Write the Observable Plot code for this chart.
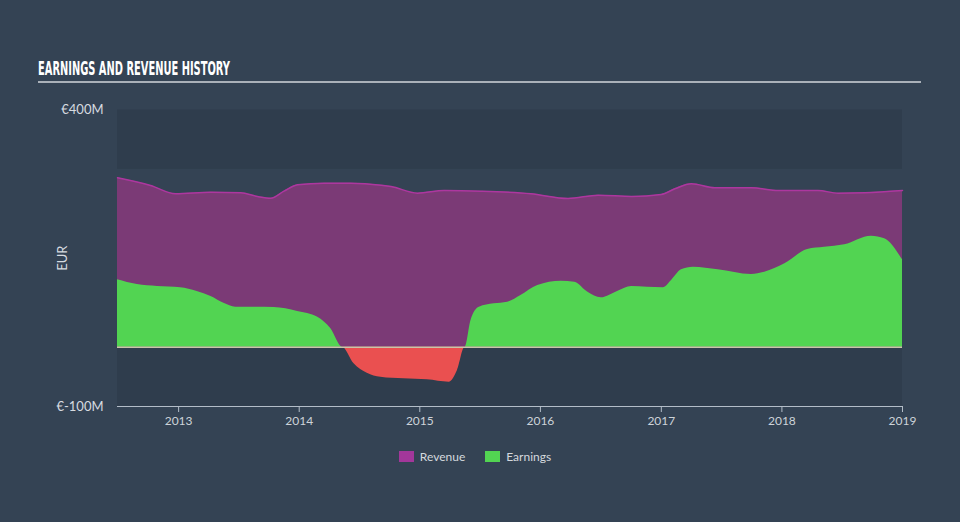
<!DOCTYPE html>
<html>
<head>
<meta charset="utf-8">
<script src="https://cdn.jsdelivr.net/npm/d3@7"></script>
<script src="https://cdn.jsdelivr.net/npm/@observablehq/plot@0.6"></script>
<style>
  html, body { margin: 0; padding: 0; background: #344354; width: 960px; height: 522px; overflow: hidden; }
  #wrap { position: relative; width: 960px; height: 522px; }
  #chart { position: absolute; left: 0; top: 0; }
  #title { position: absolute; left: 0; top: 0; }
  #legend { position: absolute; left: 0; top: 449px; width: 960px; display: flex; justify-content: center; gap: 20px;
    font-family: Lato, "Open Sans", sans-serif; font-size: 12px; color: #d4d9de; padding-right: 10px; box-sizing: border-box; }
  #legend .item { display: flex; align-items: center; gap: 6px; }
  #legend .sw { width: 15px; height: 11px; display: inline-block; }
</style>
</head>
<body>
<div id="wrap">
  <div id="chart"></div>
  <svg id="title" width="960" height="100">
    <text x="38" y="74.5" textLength="192" lengthAdjust="spacingAndGlyphs"
      font-family="'Liberation Sans Narrow', 'DejaVu Sans Condensed', sans-serif" font-weight="bold" font-size="20" fill="#ffffff">EARNINGS AND REVENUE HISTORY</text>
    <line x1="38" x2="921" y1="82" y2="82" stroke="#aab1b9" stroke-width="2"></line>
  </svg>
  <div id="legend">
    <span class="item"><span class="sw" style="background:#a2379a"></span>Revenue</span>
    <span class="item"><span class="sw" style="background:#52d452"></span>Earnings</span>
  </div>
</div>
<script>
// ---- data (values in € millions) ----
const revenueDates = ["2012-06-30","2012-10-08","2012-12-23","2013-04-09","2013-07-08","2013-08-28","2013-10-07","2013-11-16","2013-12-27","2014-03-17","2014-06-07","2014-09-06","2014-10-06","2014-12-25","2015-03-16","2015-07-05","2015-12-03","2016-03-25","2016-06-24","2016-10-03","2017-01-01","2017-02-11","2017-04-02","2017-06-12","2017-10-01","2017-12-21","2018-04-20","2018-06-20","2018-09-09","2019-01-01"];
const revenueValues = [285.7,272.7,258.7,261.4,260.4,254.1,251.3,263.1,273.9,276.6,276.6,273.2,271.0,259.7,264.2,263.1,258.7,250.8,256.3,254.1,257.5,267.1,275.5,268.8,268.8,264.2,264.2,259.7,260.4,264.2];

const earningsDates = ["2012-06-30","2012-08-29","2012-10-29","2013-01-07","2013-02-26","2013-04-09","2013-05-18","2013-06-23","2013-10-17","2013-12-27","2014-02-26","2014-04-07","2014-05-12","2014-06-16","2014-07-26","2014-09-05","2014-11-14","2015-01-24","2015-03-31","2015-04-25","2015-05-18","2015-06-05","2015-06-30","2015-08-14","2015-09-24","2015-11-03","2015-12-24","2016-03-04","2016-04-14","2016-05-24","2016-07-03","2016-08-23","2016-10-03","2017-01-07","2017-02-01","2017-03-03","2017-04-08","2017-06-22","2017-10-01","2017-11-10","2018-01-10","2018-03-20","2018-05-10","2018-07-10","2018-09-29","2018-11-08","2019-01-01"];
const earningsValues = [113.7,105.7,102.4,100.2,93.9,85.5,74.2,67.5,66.9,60.2,50.6,31.0,0,-28.0,-43.8,-50.6,-53.3,-55.0,-59.0,-39.3,0,45.0,67.5,73.2,75.9,87.2,104.0,111.3,109.6,92.7,83.3,94.4,102.4,100.2,112.5,130.5,134.9,130.5,122.6,126.5,140.6,164.8,168.6,172.7,187.2,182.8,147.4];

const yTicks = [400, -100];
const yearTicks = ["2013","2014","2015","2016","2017","2018","2019"];
const bandRanges = [[300, 400], [100, 200], [-100, 0]];

// ---- tables ----
const parse = d3.utcParse("%Y-%m-%d");
const revenue = revenueDates.map((d, i) => ({date: parse(d), value: revenueValues[i]}));
const earnings = earningsDates.map((d, i) => ({date: parse(d), value: earningsValues[i]}));
const bands = bandRanges.map(([a, b]) => ({y1: a, y2: b}));
const xTickDates = yearTicks.map(y => d3.utcParse("%Y")(y));

const chart = Plot.plot({
  width: 960,
  height: 522,
  marginLeft: 117,
  marginRight: 58,
  marginTop: 109.5,
  marginBottom: 116,
  style: {background: "transparent", fontFamily: "Lato, 'Open Sans', sans-serif", fontSize: "12px", color: "#cdd3d9"},
  x: {type: "utc", domain: [parse("2012-06-30"), parse("2019-01-01")]},
  y: {domain: [-100, 400]},
  marks: [
    Plot.rectY(bands, {x1: () => parse("2012-06-30"), x2: () => parse("2019-01-01"), y1: "y1", y2: "y2", fill: "#2f3d4d"}),
    Plot.areaY(revenue, {x: "date", y: "value", fill: "#7b3a76", curve: "monotone-x"}),
    Plot.lineY(revenue, {x: "date", y: "value", stroke: "#ad379f", strokeWidth: 1.5, curve: "monotone-x"}),
    Plot.areaY(earnings, {x: "date", y1: 0, y2: d => Math.max(0, d.value), fill: "#52d452", curve: "monotone-x"}),
    Plot.areaY(earnings, {x: "date", y1: 0, y2: d => Math.min(0, d.value), fill: "#ea5050", curve: "monotone-x"}),
    Plot.ruleY([0], {stroke: "#cbc3a9", strokeWidth: 1.5}),
    Plot.ruleY([-100], {stroke: "#b3bdc8", strokeWidth: 1}),
    Plot.axisX({ticks: xTickDates, tickFormat: d3.utcFormat("%Y"), tickSize: 6, tickPadding: 4, stroke: "#b3bdc8", color: "#cdd3d9", label: null}),
    Plot.axisY({ticks: yTicks, tickSize: 0, tickPadding: 14, tickFormat: d => "€" + d + "M", color: "#d7dbe0", fontSize: 13,
      label: "EUR", labelAnchor: "center", labelOffset: 60, labelArrow: "none"})
  ]
});
document.getElementById("chart").appendChild(chart);
</script>
</body>
</html>
